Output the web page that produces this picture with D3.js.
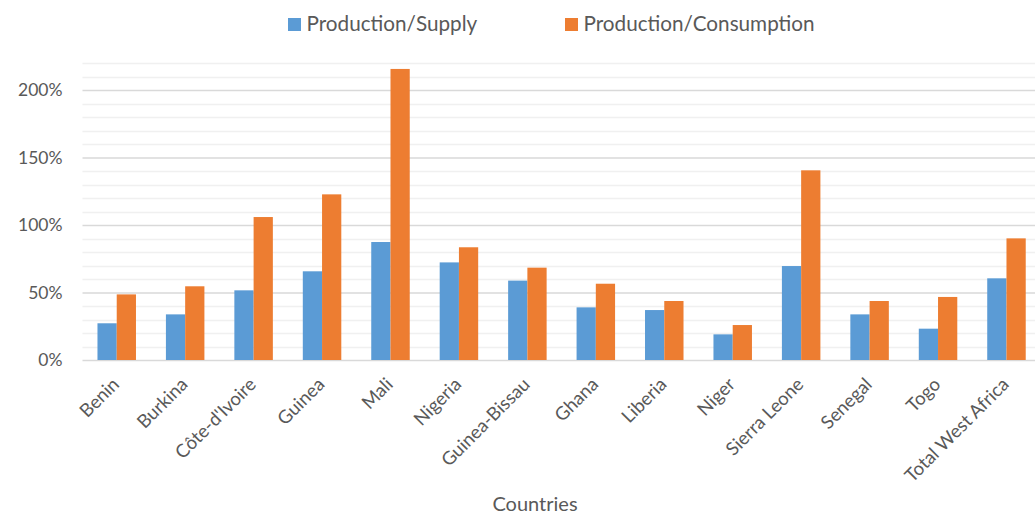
<!DOCTYPE html>
<html>
<head>
<meta charset="utf-8">
<script src="https://cdn.jsdelivr.net/npm/d3@7"></script>
<style>
  html, body { margin: 0; padding: 0; background: #fff; }
  svg { display: block; }
  text { font-family: Lato, "Open Sans", sans-serif; fill: #595959; }
</style>
</head>
<body>
<svg id="chart" width="1035" height="516"></svg>
<script>
const categories = ["Benin", "Burkina", "Côte-d'Ivoire", "Guinea", "Mali", "Nigeria", "Guinea-Bissau", "Ghana", "Liberia", "Niger", "Sierra Leone", "Senegal", "Togo", "Total West Africa"];
const seriesNames = ["Production/Supply", "Production/Consumption"];
const productionSupply = [0.272, 0.338, 0.516, 0.657, 0.874, 0.723, 0.588, 0.390, 0.370, 0.190, 0.696, 0.338, 0.232, 0.605];
const productionConsumption = [0.486, 0.546, 1.059, 1.227, 2.156, 0.835, 0.684, 0.565, 0.437, 0.259, 1.405, 0.437, 0.467, 0.901];
const majorTicks = [0, 0.5, 1.0, 1.5, 2.0];
const minorTicks = d3.range(0, 23).map(i => i / 10);
const colors = ["#5b9bd5", "#ed7d31"];
const xTitle = "Countries";

const svg = d3.select("#chart");
const mLeft = 82.5, mRight = 1040.7, mTop = 63, mBottom = 360;

const x = d3.scaleBand().domain(categories).range([mLeft, mRight]).padding(0);
const x1 = d3.scaleBand().domain(seriesNames).range([0, x.bandwidth()]).paddingInner(0).paddingOuter(0.778);
const y = d3.scaleLinear().domain([0, 2.2]).range([mBottom, mTop]);

// minor gridlines
svg.append("g").selectAll("line").data(minorTicks.filter(t => Math.round(t * 10) % 5 !== 0)).join("line")
  .attr("x1", mLeft).attr("x2", mRight)
  .attr("y1", d => Math.round(y(d)) + 0.5).attr("y2", d => Math.round(y(d)) + 0.5)
  .attr("stroke", "#f0f0f0").attr("stroke-width", 1.5);

// major gridlines via axis
const yAxis = d3.axisLeft(y).tickValues(majorTicks).tickFormat(d3.format(".0%")).tickSize(-(mRight - mLeft)).tickPadding(20);
const gy = svg.append("g").attr("transform", `translate(${mLeft},0)`).call(yAxis);
gy.select(".domain").remove();
gy.selectAll(".tick line").attr("stroke", "#d9d9d9").attr("stroke-width", 1.5);
gy.selectAll(".tick text").attr("font-size", 17.5).attr("font-family", "Lato, sans-serif").attr("fill", "#595959");

// bars
const data = categories.map((c, i) => ({ c, vals: [productionSupply[i], productionConsumption[i]] }));
const groups = svg.append("g").selectAll("g").data(data).join("g")
  .attr("transform", d => `translate(${x(d.c)},0)`);
groups.selectAll("rect").data(d => d.vals.map((v, j) => ({ v, s: seriesNames[j], j }))).join("rect")
  .attr("x", d => x1(d.s))
  .attr("width", x1.bandwidth())
  .attr("y", d => y(d.v))
  .attr("height", d => y(0) - y(d.v))
  .attr("fill", d => colors[d.j]);

// x axis labels
const xAxis = d3.axisBottom(x).tickSize(0).tickPadding(0);
const gx = svg.append("g").attr("transform", `translate(0,${mBottom})`).call(xAxis);
gx.select(".domain").remove();
gx.selectAll(".tick text")
  .attr("font-size", 18.5).attr("font-family", "Lato, sans-serif").attr("fill", "#595959")
  .attr("text-anchor", "end")
  .attr("transform", "translate(-1,21) rotate(-45)")
  .attr("dy", "0.35em").attr("y", 0).attr("x", 0);

// x title
svg.append("text").attr("x", 535).attr("y", 511).attr("text-anchor", "middle")
  .attr("font-size", 20).text(xTitle);

// legend
const legendX = [288, 565];
const lg = svg.append("g").selectAll("g").data(seriesNames).join("g")
  .attr("transform", (d, i) => `translate(${legendX[i]},0)`);
lg.append("rect").attr("x", 0).attr("y", 18).attr("width", 13).attr("height", 13).attr("fill", (d, i) => colors[i]);
lg.append("text").attr("x", 18.5).attr("y", 31).attr("font-size", 20.7).text(d => d);
</script>
</body>
</html>
